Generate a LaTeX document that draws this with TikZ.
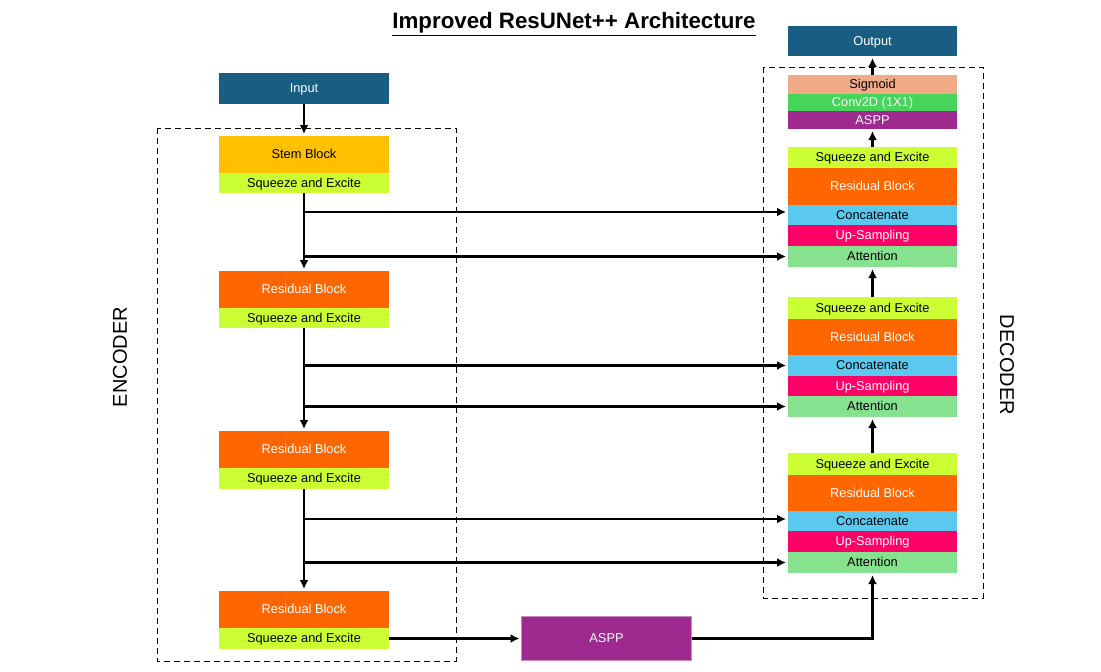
\documentclass[tikz,border=0pt]{standalone}
\usepackage{fontspec}
\setmainfont{Liberation Sans}
\usetikzlibrary{arrows.meta}
\definecolor{dblue}{HTML}{175E82}
\definecolor{stemc}{HTML}{FFC000}
\definecolor{sec}{HTML}{CCFF33}
\definecolor{resc}{HTML}{FF6600}
\definecolor{catc}{HTML}{5BC8F0}
\definecolor{upc}{HTML}{FF0066}
\definecolor{attc}{HTML}{86E28E}
\definecolor{asppc}{HTML}{9E2A8F}
\definecolor{asppb}{HTML}{C98AC0}
\definecolor{sigc}{HTML}{F0AA85}
\definecolor{convc}{HTML}{47D45A}
\tikzset{
  blk/.style={rectangle, inner sep=0pt, outer sep=0pt, font=\fontsize{12.8}{14}\selectfont, text height=9.5pt, text depth=1.5pt},
  arr/.style={line width=2.4pt, -{Latex[length=9pt,width=9pt]}, shorten >=2pt},
  dbox/.style={draw, line width=0.9pt, dash pattern=on 6pt off 4pt},
  side/.style={font=\fontsize{20}{24}\selectfont}
}
% \blkbox{name}{x1}{y1}{x2}{y2}{fill}{textcolor}{text}
\newcommand\blkbox[8]{\node[blk, fill=#6, text=#7, minimum width={#4pt-#2pt}, minimum height={#5pt-#3pt}] (#1) at ({(#2+#4)/2},{(#3+#5)/2}) {#8};}
\begin{document}
\begin{tikzpicture}[x=1pt,y=-1pt]
\useasboundingbox (0,0) rectangle (1101,672);
% title
\node[font=\fontsize{22.3}{26}\selectfont\bfseries] (title) at (574,24) {\underline{Improved ResUNet++ Architecture}};
% dashed frames
\draw[dbox] (157,128) rectangle (456,661);
\draw[dbox] (763,67) rectangle (983,598);
\node[side, rotate=90] (enc) at (120,357) {ENCODER};
\node[side, rotate=-90] (dec) at (1007,365) {DECODER};
% encoder
\blkbox{inp}{219}{73}{389}{104}{dblue}{white}{Input}
\blkbox{stem}{219}{136}{389}{173}{stemc}{black}{Stem Block}
\blkbox{se0}{219}{173}{389}{193}{sec}{black}{Squeeze and Excite}
\blkbox{rb1}{219}{271}{389}{308}{resc}{white}{Residual Block}
\blkbox{se1}{219}{308}{389}{328}{sec}{black}{Squeeze and Excite}
\blkbox{rb2}{219}{431}{389}{468}{resc}{white}{Residual Block}
\blkbox{se2}{219}{468}{389}{489}{sec}{black}{Squeeze and Excite}
\blkbox{rb3}{219}{591}{389}{628}{resc}{white}{Residual Block}
\blkbox{se3}{219}{628}{389}{649}{sec}{black}{Squeeze and Excite}
% bridge
\node[blk, fill=asppc, draw=asppb, line width=0.8pt, text=white, minimum width=170pt, minimum height=44pt] (aspp) at (606.5,638.5) {ASPP};
% decoder head
\blkbox{out}{788}{26}{957}{56}{dblue}{white}{Output}
\blkbox{sig}{788}{75}{957}{94}{sigc}{black}{Sigmoid}
\blkbox{conv}{788}{94}{957}{111}{convc}{white}{Conv2D (1X1)}
\blkbox{asppd}{788}{111}{957}{129}{asppc}{white}{ASPP}
% decoder block 1 (top)
\blkbox{dse1}{788}{147}{957}{168}{sec}{black}{Squeeze and Excite}
\blkbox{drb1}{788}{168}{957}{205}{resc}{white}{Residual Block}
\blkbox{cat1}{788}{205}{957}{225}{catc}{black}{Concatenate}
\blkbox{up1}{788}{225}{957}{246}{upc}{white}{Up-Sampling}
\blkbox{att1}{788}{246}{957}{267}{attc}{black}{Attention}
% decoder block 2
\blkbox{dse2}{788}{297}{957}{319}{sec}{black}{Squeeze and Excite}
\blkbox{drb2}{788}{319}{957}{355}{resc}{white}{Residual Block}
\blkbox{cat2}{788}{355}{957}{376}{catc}{black}{Concatenate}
\blkbox{up2}{788}{376}{957}{396}{upc}{white}{Up-Sampling}
\blkbox{att2}{788}{396}{957}{417}{attc}{black}{Attention}
% decoder block 3
\blkbox{dse3}{788}{453}{957}{475}{sec}{black}{Squeeze and Excite}
\blkbox{drb3}{788}{475}{957}{511}{resc}{white}{Residual Block}
\blkbox{cat3}{788}{511}{957}{531}{catc}{black}{Concatenate}
\blkbox{up3}{788}{531}{957}{552}{upc}{white}{Up-Sampling}
\blkbox{att3}{788}{552}{957}{573}{attc}{black}{Attention}
\coordinate (c1in) at ([yshift=3pt]cat1.west);
\coordinate (c3in) at ([yshift=2pt]cat3.west);
% encoder connections
\draw[arr] (inp) -- (stem);
\draw[arr] (se0) -- (rb1);
\draw[arr] (se1) -- (rb2);
\draw[arr] (se2) -- (rb3);
% skip connections
\draw[arr] (se0.south |- c1in) -- (c1in);
\draw[arr] (se0.south |- att1.west) -- (att1.west);
\draw[arr] (se1.south |- cat2.west) -- (cat2.west);
\draw[arr] (se1.south |- att2.west) -- (att2.west);
\draw[arr] (se2.south |- c3in) -- (c3in);
\draw[arr] (se2.south |- att3.west) -- (att3.west);
% bridge
\draw[arr] (se3) -- (aspp);
\draw[arr] (aspp.east) -| (att3.south);
% decoder connections
\draw[arr] (dse3) -- (att2);
\draw[arr] (dse2) -- (att1);
\draw[arr] (dse1) -- (asppd);
\draw[arr] (sig) -- (out);
\end{tikzpicture}
\end{document}
